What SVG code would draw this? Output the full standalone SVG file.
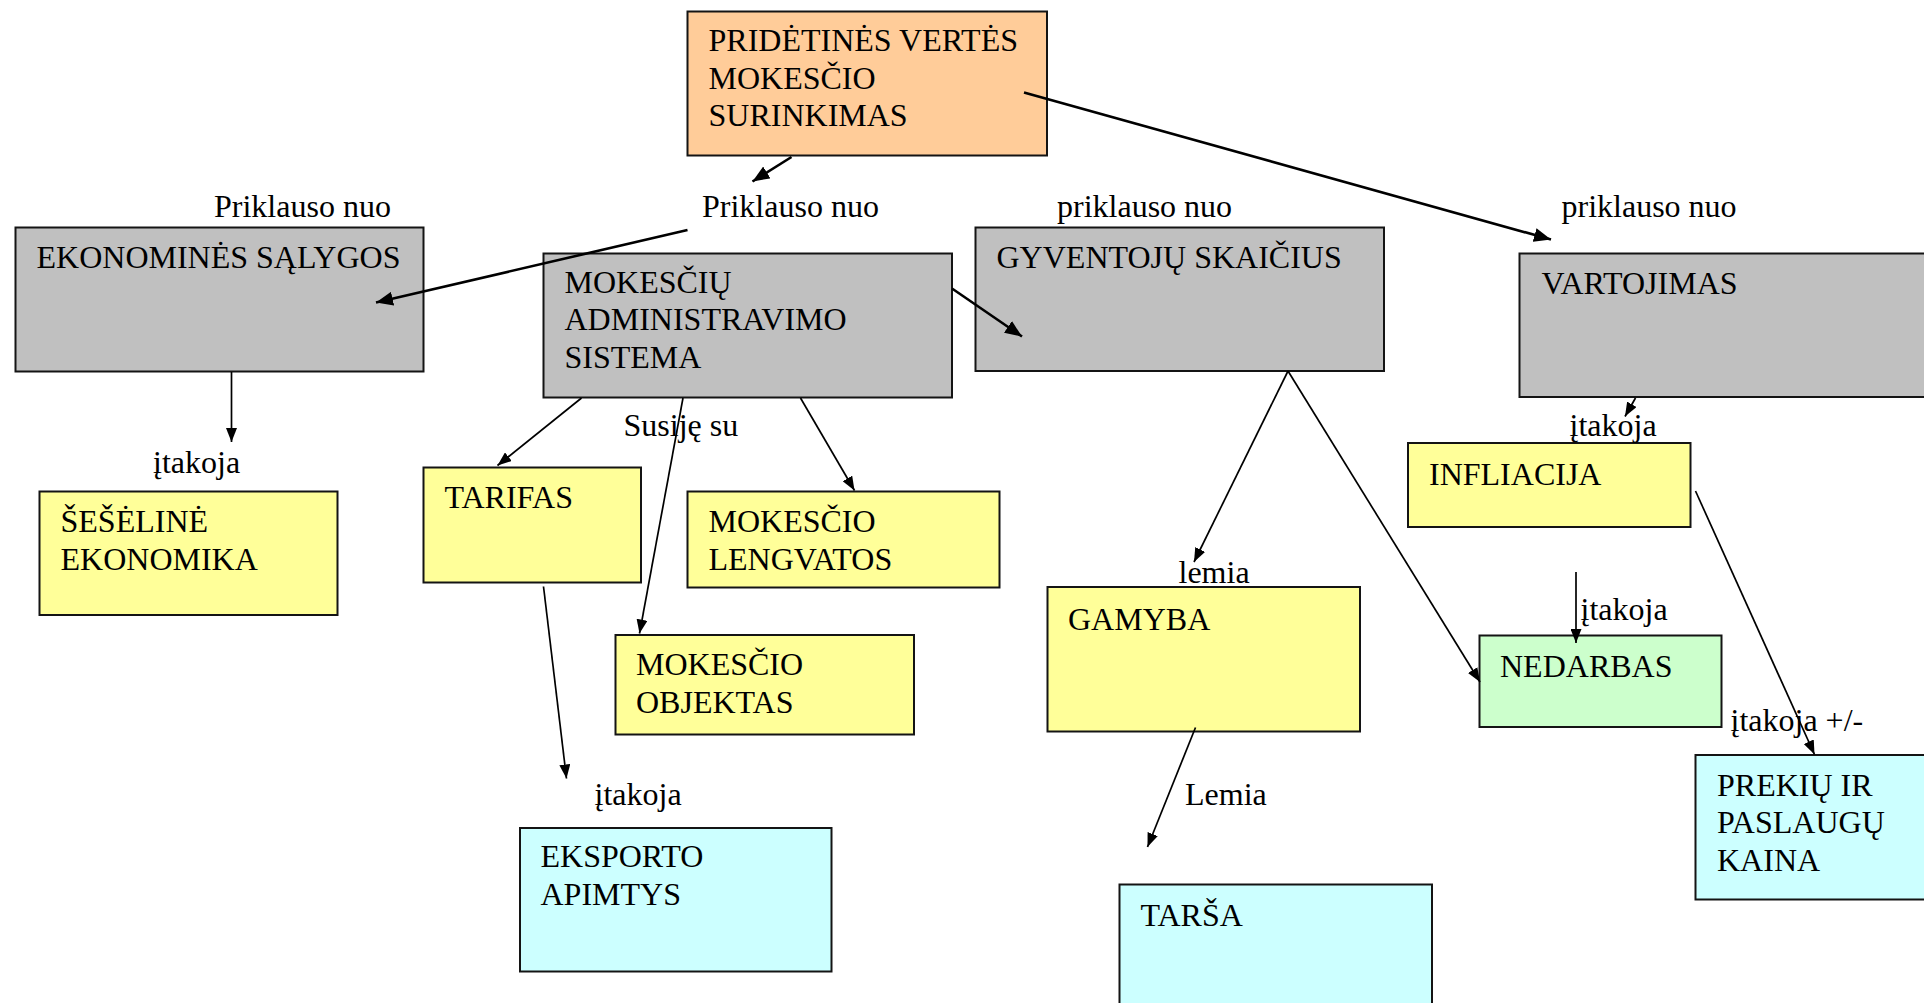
<svg xmlns="http://www.w3.org/2000/svg" width="1924" height="1003" viewBox="0 0 1924 1003">
<style>
text{font-family:"Liberation Serif","Times New Roman",serif;font-size:32px;fill:#000}
.box{stroke:#141414;stroke-width:2}
.or{fill:#FFCC99}.gr{fill:#C0C0C0}.ye{fill:#FFFF99}.cy{fill:#CCFFFF}.gn{fill:#CCFFCC}
.c{fill:none;stroke:#000;stroke-width:1.7}
.ct{fill:none;stroke:#000;stroke-width:2.6}
</style>
<defs>
<marker id="ah" markerUnits="userSpaceOnUse" markerWidth="18" markerHeight="14" refX="17" refY="7" orient="auto"><path d="M0,0 L17,7 L0,14 z" fill="#000"/></marker>
<marker id="as" markerUnits="userSpaceOnUse" markerWidth="15" markerHeight="11" refX="14" refY="5.5" orient="auto"><path d="M0,0 L14,5.5 L0,11 z" fill="#000"/></marker>
</defs>
<rect width="1924" height="1003" fill="#fff"/>

<g id="n-pvm"><rect class="box or" x="687.5" y="11.5" width="359.5" height="144"/>
<text x="708.5" y="51">PRIDĖTINĖS VERTĖS</text><text x="708.5" y="88.5">MOKESČIO</text><text x="708.5" y="126">SURINKIMAS</text></g>

<g id="n-ekonomines"><rect class="box gr" x="15.5" y="227.5" width="408" height="144"/>
<text x="36.5" y="267.5">EKONOMINĖS SĄLYGOS</text></g>

<g id="n-administravimo"><rect class="box gr" x="543.5" y="253.5" width="408.5" height="144"/>
<text x="564.5" y="292.5">MOKESČIŲ</text><text x="564.5" y="330">ADMINISTRAVIMO</text><text x="564.5" y="367.5">SISTEMA</text></g>

<g id="n-gyventoju"><rect class="box gr" x="975.5" y="227.5" width="408.5" height="143.5"/>
<text x="996.5" y="267.5">GYVENTOJŲ SKAIČIUS</text></g>

<g id="n-vartojimas"><rect class="box gr" x="1519.5" y="253.5" width="420" height="143.5"/>
<text x="1541.5" y="294">VARTOJIMAS</text></g>

<g id="n-seseline"><rect class="box ye" x="39.5" y="491.5" width="298" height="123.5"/>
<text x="60.5" y="532">ŠEŠĖLINĖ</text><text x="60.5" y="569.5">EKONOMIKA</text></g>

<g id="n-tarifas"><rect class="box ye" x="423.5" y="467.5" width="217.5" height="115"/>
<text x="444.5" y="508">TARIFAS</text></g>

<g id="n-lengvatos"><rect class="box ye" x="687.5" y="491.5" width="312" height="96"/>
<text x="708.5" y="532">MOKESČIO</text><text x="708.5" y="569.5">LENGVATOS</text></g>

<g id="n-objektas"><rect class="box ye" x="615.5" y="635" width="298.5" height="99.5"/>
<text x="636" y="675">MOKESČIO</text><text x="636" y="712.5">OBJEKTAS</text></g>

<g id="n-eksportas"><rect class="box cy" x="520" y="828" width="311.5" height="143.5"/>
<text x="540.5" y="866.5">EKSPORTO</text><text x="540.5" y="904.5">APIMTYS</text></g>

<g id="n-gamyba"><rect class="box ye" x="1047.5" y="587" width="312.5" height="144.5"/>
<text x="1068" y="629.5">GAMYBA</text></g>

<g id="n-tarsa"><rect class="box cy" x="1119.5" y="884.5" width="312.5" height="140"/>
<text x="1140.5" y="926">TARŠA</text></g>

<g id="n-infliacija"><rect class="box ye" x="1408" y="443" width="282.5" height="84"/>
<text x="1429" y="484.5">INFLIACIJA</text></g>

<g id="n-nedarbas"><rect class="box gn" x="1479.5" y="635.5" width="242" height="91.5"/>
<text x="1500" y="677">NEDARBAS</text></g>

<g id="n-kaina"><rect class="box cy" x="1695.5" y="755" width="250" height="144.5"/>
<text x="1717" y="795.5">PREKIŲ IR</text><text x="1717" y="833">PASLAUGŲ</text><text x="1717" y="870.5">KAINA</text></g>

<g id="labels">
<text x="214" y="216.5">Priklauso nuo</text>
<text x="702" y="216.5">Priklauso nuo</text>
<text x="1057" y="216.5">priklauso nuo</text>
<text x="1561.5" y="216.5">priklauso nuo</text>
<text x="153" y="473">įtakoja</text>
<text x="623.5" y="436">Susiję su</text>
<text x="594.5" y="805">įtakoja</text>
<text x="1178.5" y="582.5">lemia</text>
<text x="1185" y="804.5">Lemia</text>
<text x="1569.5" y="435.5">įtakoja</text>
<text x="1580.5" y="619.5">įtakoja</text>
<text x="1730.5" y="730.5">įtakoja +/-</text>
</g>

<g id="connectors">
<path class="ct" d="M791.5,157 L752.5,181.5" marker-end="url(#ah)"/>
<path class="ct" d="M1024,92.5 L1551,239.5" marker-end="url(#ah)"/>
<path class="ct" d="M687.5,230 L376,302.5" marker-end="url(#ah)"/>
<path class="ct" d="M952,288.5 L1022,336.5" marker-end="url(#ah)"/>
<path class="c" d="M231.5,372 L231.5,442" marker-end="url(#as)"/>
<path class="c" d="M581.5,398 L497.5,465.5" marker-end="url(#as)"/>
<path class="c" d="M683,398 L639.5,633.5" marker-end="url(#as)"/>
<path class="c" d="M800.5,398 L854.5,490.5" marker-end="url(#as)"/>
<path class="c" d="M543.5,586.5 L566.5,778.5" marker-end="url(#as)"/>
<path class="c" d="M1288,371 L1194,562" marker-end="url(#as)"/>
<path class="c" d="M1288,371 L1480,682" marker-end="url(#as)"/>
<path class="c" d="M1195.5,727.5 L1147.5,847" marker-end="url(#as)"/>
<path class="c" d="M1635.5,398 L1625,416.5" marker-end="url(#as)"/>
<path class="c" d="M1576,572 L1576,643" marker-end="url(#as)"/>
<path class="c" d="M1695.5,491 L1814.5,754.5" marker-end="url(#as)"/>
</g>
</svg>
